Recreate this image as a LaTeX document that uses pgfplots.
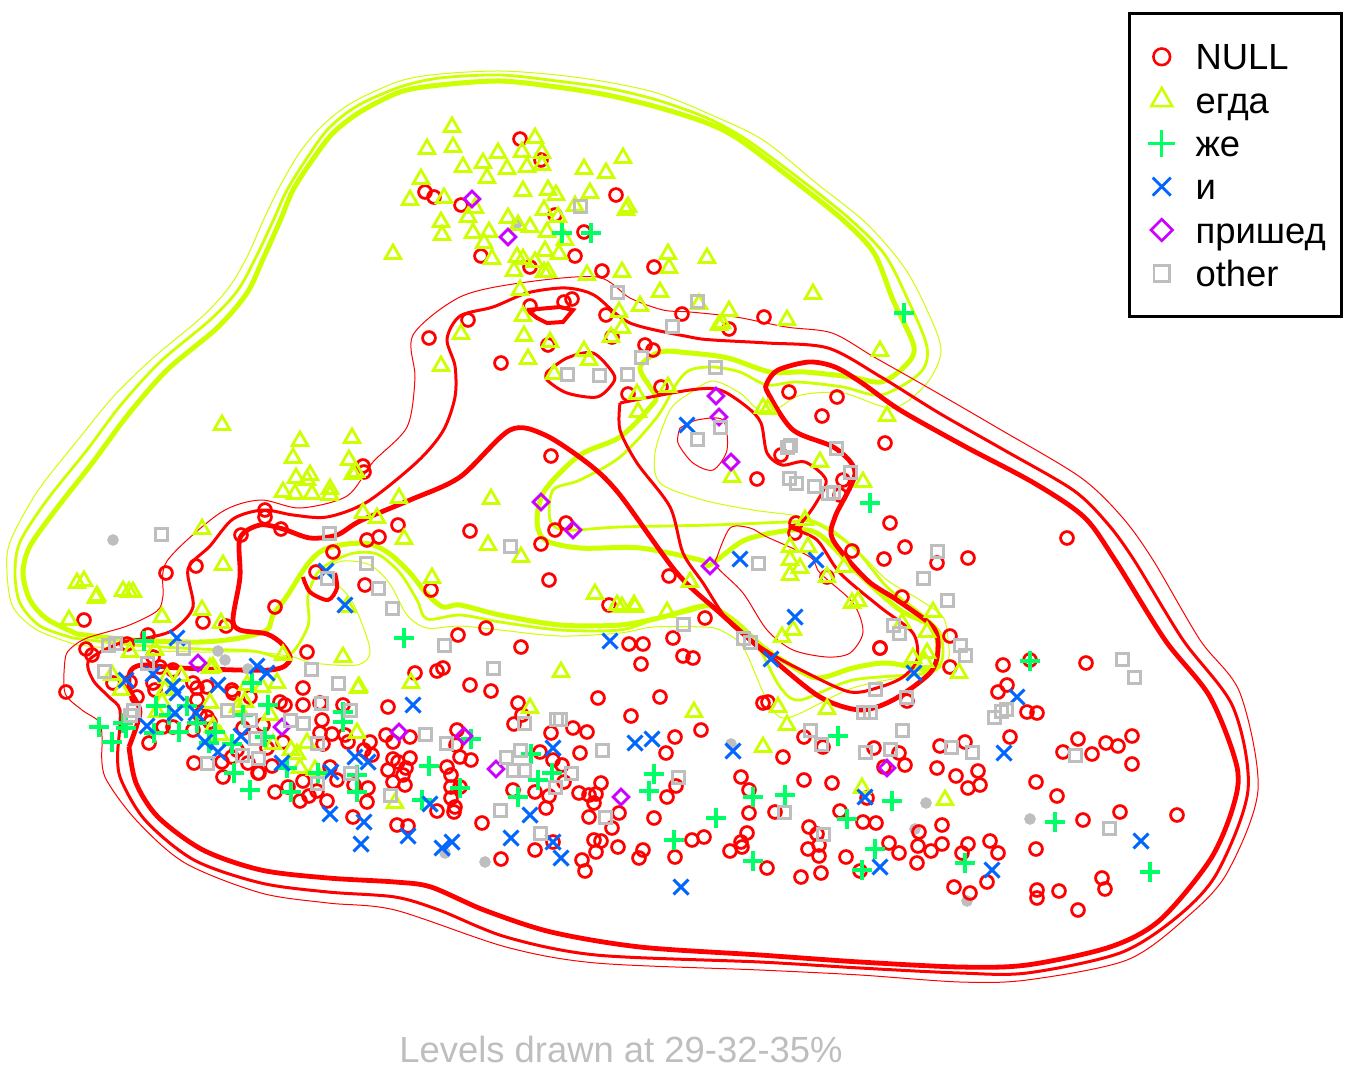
\documentclass[border=0pt]{standalone}
\usepackage{fontspec}
\setmainfont{Liberation Sans}
\usepackage{pgfplots}
\usetikzlibrary{plotmarks}
\pgfplotsset{compat=1.18}
\definecolor{cnull}{HTML}{FF0000}
\definecolor{cegda}{HTML}{CCFF00}
\definecolor{czhe}{HTML}{00FF66}
\definecolor{ci}{HTML}{0066FF}
\definecolor{cpri}{HTML}{CC00FF}
\definecolor{coth}{HTML}{BEBEBE}
\newcommand\lt[1]{\raisebox{-2pt}{#1}}
\begin{document}
\begin{tikzpicture}
\begin{axis}[
    x=0.5pt, y=-0.5pt,
    xmin=0, xmax=1359, ymin=0, ymax=1086,
    axis line style={draw=none},
    ticks=none,
    clip=true,
    legend cell align=left,
    legend style={
        at={(axis cs:1128,12.5)}, anchor=north west,
        draw=black, line width=1.3pt, fill=white,
        font=\fontsize{18.2}{20}\selectfont,
        inner xsep=9.5pt, inner ysep=13pt,
        row sep=4.65pt,
        /tikz/column 1/.style={column sep=10.2pt},
        nodes={inner sep=0pt, text height=13pt, text depth=4pt},
    },
]
% --- yellow contours
\addplot[forget plot, cegda, line width=0.5pt, smooth, tension=0.5] coordinates {
(77,645)(37,630)(13,607)(7,573)(10,542)(37,492)(77,441)(113,397)(153,358)(203,316)(230,286)(248,255)(263,221)(280,186)(300,152)(323,125)(353,102)(400,81)(440,74)(500,71)(557,75)(607,82)(657,93)(707,113)(763,140)(816,183)(866,223)(904,267)(927,310)(941,350)(927,383)(893,408)(843,393)(801,395)(778,408)(759,410)(740,393)(713,381)(690,393)(670,410)(655,453)(660,483)(703,500)(753,510)(803,517)(833,530)(860,553)(887,580)(920,600)(943,617)(948,640)(948,660)(930,673)(887,680)(847,690)(787,718)(767,700)(743,647)(720,630)(703,627)(653,627)(620,633)(560,636)(500,630)(460,626)(427,628)(407,615)(390,584)(370,565)(343,561)(325,570)(333,580)(353,603)(370,650)(357,665)(313,663)(293,657)(257,652)(200,652)(133,650)(77,645)};
\addplot[forget plot, cegda, line width=1.4pt, smooth, tension=0.5] coordinates {
(73,638)(40,626)(20,603)(15,573)(20,542)(47,500)(87,450)(120,406)(160,362)(210,320)(238,290)(257,255)(273,221)(287,190)(307,158)(328,129)(357,106)(400,87)(440,78)(500,75)(557,81)(607,88)(657,100)(707,118)(747,140)(805,183)(851,220)(885,255)(908,300)(927,347)(920,373)(881,395)(843,387)(797,382)(767,385)(740,372)(713,367)(690,370)(677,383)(657,417)(620,457)(580,480)(553,490)(550,520)(565,530)(620,527)(713,525)(787,522)(813,522)(853,547)(887,587)(920,613)(940,633)(942,660)(927,673)(853,680)(800,700)(780,687)(760,650)(740,627)(713,607)(687,612)(653,620)(620,630)(560,630)(500,622)(460,615)(427,619)(417,600)(400,573)(377,554)(350,554)(320,570)(308,596)(308,626)(287,657)(253,651)(200,649)(133,645)(73,638)};
\addplot[forget plot, cegda, line width=2.5pt, smooth, tension=0.5] coordinates {
(77,634)(47,619)(30,600)(23,573)(30,546)(57,508)(93,462)(127,416)(167,370)(217,328)(247,293)(263,259)(280,221)(293,190)(313,159)(333,133)(360,112)(400,92)(440,85)(500,81)(557,87)(607,95)(657,107)(707,123)(740,140)(797,183)(843,220)(874,253)(893,300)(914,347)(904,367)(881,382)(851,377)(805,372)(770,372)(728,358)(690,353)(660,352)(640,368)(655,395)(652,405)(620,437)(580,455)(545,490)(537,520)(545,540)(580,548)(640,548)(700,560)(710,565)(745,540)(793,530)(820,535)(860,575)(900,610)(930,625)(937,640)(937,660)(930,670)(887,663)(853,668)(817,678)(787,663)(763,647)(737,623)(713,607)(697,607)(663,617)(620,625)(560,625)(500,615)(460,605)(443,607)(427,594)(410,573)(390,554)(370,544)(347,544)(323,550)(307,565)(287,596)(273,615)(267,630)(240,638)(200,642)(133,640)(77,634)};
% --- red contours
\addplot[forget plot, cnull, line width=0.5pt, smooth, tension=0.5] coordinates {
(102,747)(105,777)(136,820)(185,863)(261,893)(328,903)(395,910)(506,947)(596,963)(760,970)(860,975)(960,982)(1027,980)(1127,960)(1187,917)(1227,873)(1258,790)(1240,693)(1200,640)(1153,560)(1122,517)(1080,477)(996,427)(927,387)(874,357)(832,333)(786,327)(736,317)(690,312)(663,310)(630,298)(597,277)(520,283)(460,297)(413,335)(415,378)(407,427)(373,462)(347,496)(300,508)(260,500)(220,513)(167,561)(163,596)(157,611)(127,626)(87,638)(70,649)(65,660)(65,693)(82,710)(100,723)(102,747)};
\addplot[forget plot, cnull, line width=0.5pt, smooth, tension=0.5] coordinates {
(680,428)(697,420)(723,420)(727,450)(713,470)(693,463)(678,443)(680,428)};
\addplot[forget plot, cnull, line width=0.5pt, smooth, tension=0.5] coordinates {
(717,557)(730,528)(750,528)(767,537)(810,557)(820,573)(853,603)(863,632)(850,653)(827,657)(793,650)(767,630)(743,593)(717,567)(717,557)};
\addplot[forget plot, cnull, line width=1.5pt, smooth, tension=0.5] coordinates {
(118,747)(120,777)(145,820)(194,860)(261,883)(328,892)(395,897)(439,910)(506,937)(596,955)(760,962)(860,968)(960,973)(1027,973)(1120,953)(1177,917)(1217,873)(1248,790)(1233,707)(1183,640)(1134,560)(1107,523)(1073,490)(1004,450)(939,413)(881,377)(828,348)(767,343)(713,340)(690,337)(630,323)(597,297)(580,290)(560,288)(527,293)(493,307)(460,316)(447,339)(455,366)(455,397)(443,431)(417,462)(367,502)(327,517)(293,515)(263,510)(233,519)(210,546)(188,569)(193,607)(173,630)(147,638)(120,643)(89,660)(93,680)(109,697)(120,710)(118,747)};
\addplot[forget plot, cnull, line width=1.5pt, smooth, tension=0.5] coordinates {
(620,403)(690,390)(720,390)(747,407)(761,423)(767,453)(782,465)(805,462)(826,480)(816,503)(801,523)(790,527)(817,540)(840,573)(880,607)(913,633)(917,660)(903,677)(880,687)(850,692)(807,673)(770,653)(730,623)(703,583)(683,553)(670,507)(637,463)(620,430)(620,403)};
\addplot[forget plot, cnull, line width=1.5pt, smooth, tension=0.5] coordinates {
(547,372)(567,358)(593,353)(613,373)(613,383)(597,397)(567,393)(547,380)(547,372)};
\addplot[forget plot, cnull, line width=2pt] coordinates {
(527,310)(560,307)(573,310)(563,322)(547,323)(537,318)(527,310)};
\addplot[forget plot, cnull, line width=2pt, smooth, tension=0.5] coordinates {
(335,573)(337,588)(328,600)(310,592)(303,577)};
\addplot[forget plot, cnull, line width=2.4pt, smooth, tension=0.5] coordinates {
(129,747)(136,783)(158,817)(203,850)(261,870)(328,878)(395,882)(431,887)(484,910)(551,932)(640,947)(760,955)(860,962)(960,967)(1027,965)(1110,947)(1160,920)(1210,860)(1233,807)(1237,767)(1210,697)(1165,640)(1115,560)(1084,517)(1034,483)(966,447)(900,410)(862,383)(835,367)(809,362)(778,370)(767,383)(768,393)(793,430)(835,448)(855,473)(835,517)(833,540)(867,580)(897,600)(933,627)(938,650)(930,673)(893,700)(860,710)(820,697)(770,657)(720,613)(677,573)(620,495)(590,465)(545,435)(510,430)(460,477)(410,500)(360,521)(337,535)(310,538)(283,529)(260,525)(240,538)(240,577)(233,619)(240,630)(267,634)(283,645)(290,660)(270,670)(180,668)(142,665)(130,672)(130,690)(140,712)(129,747)};
% --- small grey dots
\addplot[forget plot, only marks, mark=*, mark size=2.7pt, color=coth] coordinates {
(113,540)(218,651)(225,660)(248,669)(517,223)(731,744)(926,803)(915,829)(1030,819)(967,901)(445,853)(485,862)};
% --- NULL
\addplot[only marks, mark=o, mark size=3.2pt, color=cnull, mark options={line width=1.4pt}, legend image post style={mark options={scale=1.3,line width=1.3pt}}] coordinates {
(520,139)(541,160)(425,192)(434,197)(461,205)(616,195)(555,215)(584,232)(481,256)(575,256)(530,267)(602,271)(654,267)(530,306)(564,302)(572,299)(606,315)(682,314)(729,329)(764,317)(548,345)(429,338)(468,320)(501,363)(612,337)(645,345)(653,350)(628,394)(661,387)(789,392)(837,397)(822,416)(885,443)(781,455)(757,479)(843,480)(840,495)(890,523)(905,547)(884,559)(937,563)(968,558)(1067,538)(796,523)(795,533)(852,551)(827,577)(902,597)(880,648)(950,636)(363,466)(364,472)(398,525)(379,537)(367,540)(333,552)(241,535)(281,529)(265,510)(265,517)(196,566)(166,573)(551,456)(470,531)(555,530)(566,523)(541,544)(549,580)(431,590)(365,585)(275,607)(84,620)(127,644)(203,622)(226,626)(316,572)(609,605)(669,576)(705,618)(458,635)(486,628)(521,647)(629,644)(643,644)(641,664)(673,638)(683,656)(693,658)(763,703)(768,702)
(307,652)(86,649)(92,655)(66,692)(148,635)(137,697)(130,682)(113,683)(153,657)(160,667)(173,670)(153,683)(155,690)(193,683)(197,688)(207,687)(232,690)(233,693)(250,697)(303,688)(280,702)(285,705)(303,705)(320,703)(343,705)(388,707)(322,720)(263,725)(243,728)(197,700)(200,715)(207,717)(210,722)(193,730)(163,727)(173,727)(149,743)(320,733)(332,734)(323,744)(345,735)(348,742)(283,742)(267,748)(222,762)(232,757)(237,750)(248,763)(258,773)(223,777)(272,766)(194,763)(259,773)(288,787)(303,781)(337,780)(330,767)(354,785)(368,788)(367,802)(275,792)(317,791)(309,796)(300,801)(327,801)(353,817)
(415,673)(437,671)(443,668)(470,685)(491,691)(518,703)(522,715)(514,724)(551,733)(573,728)(587,732)(598,698)(660,697)(631,716)(675,737)(701,730)(540,752)(580,753)(553,760)(562,765)(564,782)(535,792)(549,796)(546,808)(513,790)(579,793)(589,795)(596,794)(601,783)(594,803)(589,817)(612,828)(619,813)(667,797)(676,786)(666,753)(741,777)(749,790)(654,818)(749,813)(747,833)(704,837)(692,840)(741,842)(742,847)(730,851)(675,857)(643,850)(639,858)(618,847)(596,852)(594,840)(601,841)(582,860)(585,871)(535,850)(501,859)(482,823)(553,842)(437,811)(451,798)(455,807)(454,812)(451,787)(460,787)(447,767)(451,775)(457,730)(456,745)(460,757)(471,760)(386,735)(410,737)(393,742)(370,742)(372,755)(364,750)(393,759)(398,762)(410,758)(406,768)(388,770)(403,775)(393,782)(405,785)(397,825)(408,826)
(880,648)(950,667)(1003,665)(1030,660)(1086,663)(1007,685)(998,692)(1027,712)(1037,713)(1010,737)(907,701)(804,737)(823,747)(783,757)(874,748)(899,753)(905,765)(884,767)(940,746)(965,742)(937,768)(956,776)(978,771)(980,785)(968,788)(1036,782)(1057,796)(1063,752)(1078,739)(1092,754)(1106,743)(1118,746)(1132,736)(1132,764)(804,780)(832,783)(867,798)(775,812)(840,811)(863,822)(876,823)(809,827)(817,834)(819,845)(808,849)(819,856)(846,857)(801,877)(821,873)(860,871)(889,843)(899,853)(919,832)(918,846)(917,863)(931,851)(942,844)(942,825)(962,853)(968,844)(990,841)(998,853)(987,882)(954,887)(970,893)(1036,849)(1083,820)(1120,812)(1177,815)(1102,878)(1105,889)(1059,891)(1037,890)(1037,898)(1078,910)(767,868)
};
\addlegendentry{\lt{NULL}}
% --- egda
\addplot[only marks, mark=triangle, mark size=4.5pt, color=cegda, mark options={line width=1.4pt}, legend image post style={mark options={scale=1.35,line width=1.3pt}}] coordinates {
(452,127)(427,149)(453,147)(498,153)(535,138)(522,152)(542,153)(463,167)(483,163)(507,169)(487,178)(527,167)(542,165)(623,158)(584,169)(606,173)(421,179)(410,200)(444,198)(523,191)(548,190)(556,195)(590,193)(575,206)(628,207)(626,210)(475,208)(468,217)(441,222)(442,235)(473,233)(489,232)(484,243)(508,218)(518,225)(530,227)(544,210)(558,217)(547,232)(565,240)(393,254)(492,259)(517,257)(523,259)(535,262)(545,251)(559,254)(514,271)(544,272)(548,272)(587,275)(622,272)(668,254)(669,268)(707,258)(660,292)(640,306)(699,304)(719,325)(520,290)(523,316)(619,312)(622,328)(611,337)(461,334)(524,336)(550,342)(584,351)(589,360)(528,359)(441,366)(554,374)(637,394)(668,387)(729,311)(722,323)(813,294)(787,320)(880,351)
(638,412)(763,408)(768,409)(887,416)(820,462)(863,482)(732,477)(805,520)(790,547)(808,547)(790,560)(800,568)(790,575)(827,577)(844,567)(858,601)(852,603)(690,582)(635,607)(622,607)(667,612)(793,630)(782,637)(933,612)(902,623)(927,632)(913,658)(927,653)(925,662)(959,673)(694,712)(778,707)(827,709)(787,725)(763,747)(862,788)(945,800)
(222,425)(300,441)(352,438)(293,458)(349,460)(310,475)(296,478)(307,480)(356,472)(353,474)(283,492)(295,494)(312,494)(330,489)(330,495)(399,498)(491,499)(377,518)(363,513)(404,539)(488,545)(521,557)(432,578)(595,594)(617,605)(634,605)(202,529)(223,565)(77,583)(84,581)(97,596)(96,598)(123,591)(133,592)(129,592)(347,607)(561,672)(411,683)(359,687)(530,708)(395,803)
(69,620)(162,617)(202,610)(221,623)(130,652)(155,650)(112,675)(121,690)(167,678)(181,676)(165,690)(210,668)(213,667)(210,703)(247,685)(262,687)(277,683)(283,655)(343,657)(358,688)(238,707)(245,702)(270,715)(162,702)(157,712)(357,733)(220,735)(273,744)(291,750)(297,754)(307,743)(300,768)(315,770)(213,727)
};
\addlegendentry{\lt{егда}}
% --- zhe
\addplot[only marks, mark=+, mark size=4.8pt, color=czhe, mark options={line width=1.8pt}, legend image post style={mark options={scale=1.4,line width=1.6pt}}] coordinates {
(144,641)(99,727)(112,742)(123,723)(126,728)(156,706)(154,733)(179,732)(169,715)(187,706)(197,723)(215,732)(209,743)(232,744)(243,715)(252,683)(268,705)(265,737)(234,773)(250,790)(291,792)(287,768)(318,773)(343,712)(343,722)(357,775)(357,792)
(562,233)(591,233)(904,313)(870,503)(404,638)(1030,661)(429,766)(422,800)(471,739)(460,788)(518,797)(531,754)(538,780)(552,773)(654,774)(649,791)(753,797)(785,795)(716,818)(838,736)(847,819)(892,801)(875,849)(674,840)(753,861)(862,870)(965,863)(1055,822)(1150,872)
};
\addlegendentry{\lt{же}}
% --- i
\addplot[only marks, mark=x, mark size=5.3pt, color=ci, mark options={line width=1.5pt}, legend image post style={mark options={scale=1.2,line width=1.4pt}}] coordinates {
(177,638)(126,680)(153,674)(173,686)(177,693)(218,685)(257,666)(267,673)(175,713)(196,713)(147,726)(241,736)(205,742)(218,752)(282,763)(331,772)(355,757)(368,762)(330,814)(364,822)(361,844)(345,605)
(326,571)(413,705)(408,836)(430,804)(442,848)(452,842)(511,838)(530,815)(553,842)(561,858)(553,748)(635,743)(652,739)(610,641)(733,751)(681,887)(865,797)(880,867)(992,870)(1004,753)(1017,697)(1141,841)(687,425)(740,559)(816,560)(795,617)(771,659)(914,673)
};
\addlegendentry{\lt{и}}
% --- prished
\addplot[only marks, mark=square, mark size=2.8pt, mark options={rotate=45,line width=1.4pt}, color=cpri, legend image post style={mark options={rotate=45,scale=1.35,line width=1.3pt}}] coordinates {
(472,199)(508,237)(716,396)(719,417)(731,462)(541,502)(573,530)(710,566)(198,663)(282,727)(399,732)(464,736)(496,769)(621,797)(887,768)
};
\addlegendentry{\lt{пришед\hspace{-1.5pt}}}
% --- other
\addplot[only marks, mark=square, mark size=3pt, color=coth, mark options={line width=1.5pt}, legend image post style={mark options={scale=1.3,line width=1.4pt}}] coordinates {
(580,206)(617,292)(697,301)(672,326)(641,357)(567,374)(599,375)(627,374)(715,367)(697,439)(720,427)(790,445)(787,447)(836,448)(850,472)(789,478)(796,483)(814,486)(828,493)(833,492)(758,563)(937,551)(923,578)(947,600)(893,625)(899,633)(960,645)(965,655)(683,624)(743,638)(750,642)(875,689)(906,697)(863,712)(870,712)
(161,534)(329,533)(366,563)(327,578)(378,588)(392,608)(510,546)(444,645)(493,668)(108,645)(115,643)(104,671)(130,715)(183,648)(311,669)(338,683)(133,710)(147,663)(227,710)(250,720)(303,723)(290,720)(350,710)(321,703)(207,763)(255,738)(258,758)(242,755)(317,783)(350,773)(390,795)(317,743)
(425,734)(500,810)(524,723)(506,757)(520,750)(513,770)(524,770)(556,719)(560,719)(602,750)(605,817)(540,833)(571,773)(678,777)(446,743)(555,787)(784,812)(823,834)(810,730)(821,744)(865,752)(890,749)(902,730)(951,747)(972,752)(994,717)(1001,711)(1006,709)(1075,755)(1109,828)(1122,659)(1134,677)
};
\addlegendentry{\lt{other}}
\node[font=\fontsize{18.2}{20}\selectfont, text=coth] at (axis cs:621,1049) {Levels drawn at 29-32-35\%};
\end{axis}
\end{tikzpicture}
\end{document}
